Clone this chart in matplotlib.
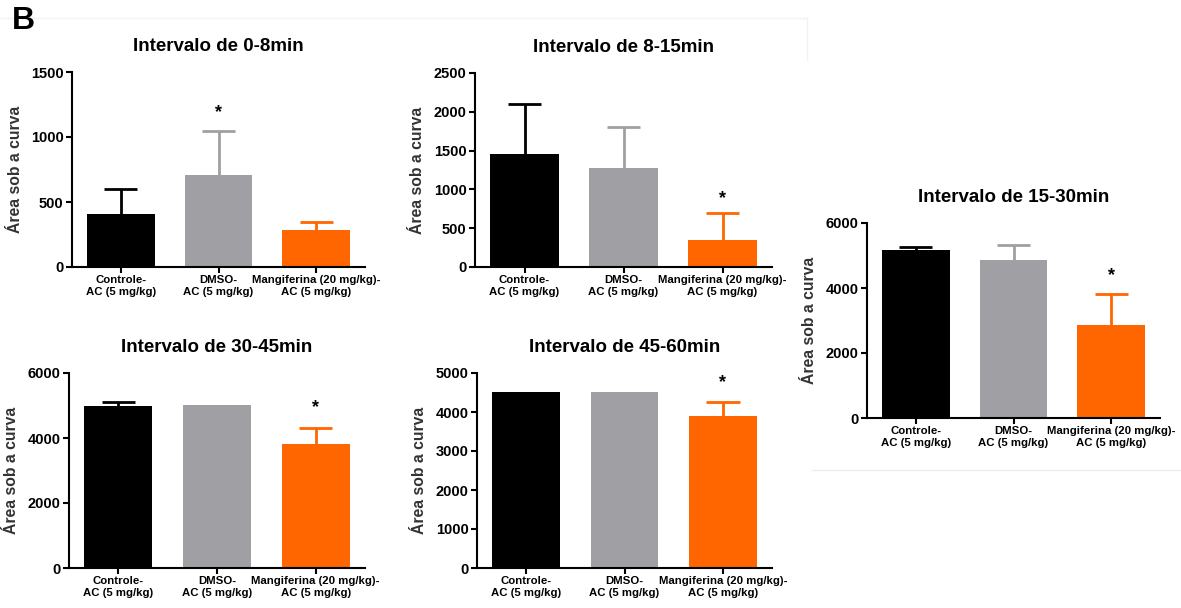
import numpy as np
import matplotlib.pyplot as plt
from matplotlib.lines import Line2D

plt.rcParams['font.family'] = ['Liberation Sans', 'DejaVu Sans']
plt.rcParams['font.weight'] = 'bold'
plt.rcParams['axes.labelweight'] = 'bold'

W, H = 1181, 608

groups = ['Controle-\nAC (5 mg/kg)', 'DMSO-\nAC (5 mg/kg)', 'Mangiferina (20 mg/kg)-\nAC (5 mg/kg)']
colors = ['#000000', '#a0a0a4', '#ff6600']

titles = ['Intervalo de 0-8min', 'Intervalo de 8-15min', 'Intervalo de 15-30min',
          'Intervalo de 30-45min', 'Intervalo de 45-60min']

# mean and upper error (SEM) per group
mean_0_8 = [410, 705, 282]
err_0_8 = [187, 341, 64]
mean_8_15 = [1455, 1271, 351]
err_8_15 = [643, 535, 351]
mean_15_30 = [5179, 4872, 2872]
err_15_30 = [72, 461, 954]
mean_30_45 = [4974, 5026, 3815]
err_30_45 = [123, 0, 493]
mean_45_60 = [4513, 4513, 3906]
err_45_60 = [0, 0, 350]

yticks_0_8 = [0, 500, 1000, 1500]
yticks_8_15 = [0, 500, 1000, 1500, 2000, 2500]
yticks_15_30 = [0, 2000, 4000, 6000]
yticks_30_45 = [0, 2000, 4000, 6000]
yticks_45_60 = [0, 1000, 2000, 3000, 4000, 5000]

# asterisk: (group index, y position)
star_0_8 = (1, 1190)
star_8_15 = (2, 886)
star_15_30 = (2, 4379)
star_30_45 = (2, 4923)
star_45_60 = (2, 4744)

panels = [
    (mean_0_8, err_0_8, yticks_0_8, star_0_8, (72, 365, 72, 267)),
    (mean_8_15, err_8_15, yticks_8_15, star_8_15, (475, 772, 73, 267)),
    (mean_15_30, err_15_30, yticks_15_30, star_15_30, (867, 1160, 223, 418)),
    (mean_30_45, err_30_45, yticks_30_45, star_30_45, (69, 365, 373, 568)),
    (mean_45_60, err_45_60, yticks_45_60, star_45_60, (477, 772, 373, 568)),
]

cap = 0.17

fig = plt.figure(figsize=(W / 100, H / 100), dpi=100)

for k, (means, errs, yt, star, box) in enumerate(panels):
    l, r, t, b = box
    ax = fig.add_axes([l / W, 1 - b / H, (r - l) / W, (b - t) / H])
    x = np.arange(len(groups))
    for i in range(len(groups)):
        ax.bar(x[i], means[i], width=0.69, color=colors[i], zorder=2)
        if errs[i] > 0:
            top = means[i] + errs[i]
            ax.vlines(x[i], means[i], top, color=colors[i], lw=2, zorder=1)
            ax.hlines(top, x[i] - cap, x[i] + cap, color=colors[i], lw=2, zorder=1)
    ax.text(x[star[0]], star[1], '*', ha='center', va='center',
            fontsize=13, fontweight='bold')
    ax.set_xlim(-0.5, 2.5)
    ax.set_ylim(0, yt[-1])
    ax.set_yticks(yt)
    ax.set_xticks(x)
    ax.set_xticklabels(groups, fontsize=8.2, linespacing=1.15)
    ax.tick_params(axis='y', labelsize=10.5, width=1.5, length=4, pad=2)
    ax.tick_params(axis='x', width=1.5, length=4, pad=2)
    for s in ['top', 'right']:
        ax.spines[s].set_visible(False)
    for s in ['left', 'bottom']:
        ax.spines[s].set_linewidth(1.5)
    ax.set_ylabel('Área sob a curva', fontsize=11.3, color='#333333',
                  fontweight='bold', labelpad=6)
    ax.set_title(titles[k], fontsize=13.5, fontweight='bold', pad=15)

fig.text(12 / W, 1 - 6 / H, 'B', fontsize=23, fontweight='bold', va='top')

# faint frame lines from the original layout
fig.add_artist(Line2D([0, 807 / W], [1 - 18 / H, 1 - 18 / H], color='#f2f2f2', lw=1))
fig.add_artist(Line2D([807 / W, 807 / W], [1 - 18 / H, 1 - 60 / H], color='#f2f2f2', lw=1))
fig.add_artist(Line2D([812 / W, 1], [1 - 470 / H, 1 - 470 / H], color='#eeeeee', lw=1))

fig.savefig('out.png', dpi=100)
